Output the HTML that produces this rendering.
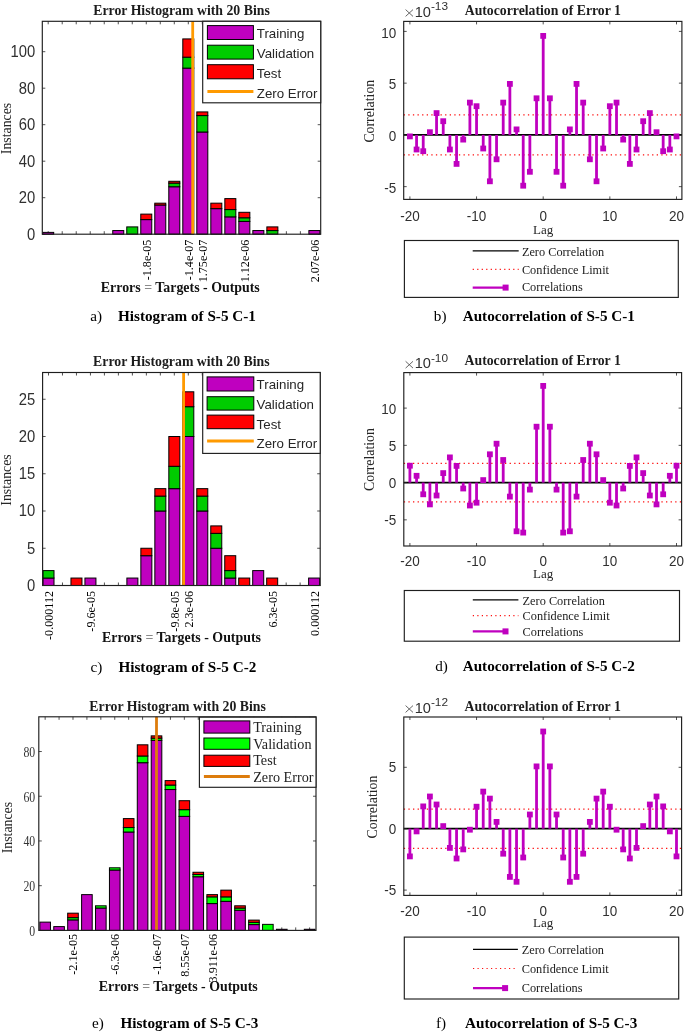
<!DOCTYPE html>
<html><head><meta charset="utf-8"><style>
html,body{margin:0;padding:0;background:#fff;}
svg{display:block;filter:blur(0.55px);}
</style></head><body>
<svg width="685" height="1033" viewBox="0 0 685 1033">
<rect width="685" height="1033" fill="#fff"/>
<line x1="48.20" y1="234.20" x2="48.20" y2="231.20" stroke="#262626" stroke-width="0.8" />
<line x1="48.20" y1="21.30" x2="48.20" y2="24.30" stroke="#262626" stroke-width="0.8" />
<line x1="62.21" y1="234.20" x2="62.21" y2="231.20" stroke="#262626" stroke-width="0.8" />
<line x1="62.21" y1="21.30" x2="62.21" y2="24.30" stroke="#262626" stroke-width="0.8" />
<line x1="76.22" y1="234.20" x2="76.22" y2="231.20" stroke="#262626" stroke-width="0.8" />
<line x1="76.22" y1="21.30" x2="76.22" y2="24.30" stroke="#262626" stroke-width="0.8" />
<line x1="90.23" y1="234.20" x2="90.23" y2="231.20" stroke="#262626" stroke-width="0.8" />
<line x1="90.23" y1="21.30" x2="90.23" y2="24.30" stroke="#262626" stroke-width="0.8" />
<line x1="104.24" y1="234.20" x2="104.24" y2="231.20" stroke="#262626" stroke-width="0.8" />
<line x1="104.24" y1="21.30" x2="104.24" y2="24.30" stroke="#262626" stroke-width="0.8" />
<line x1="118.25" y1="234.20" x2="118.25" y2="231.20" stroke="#262626" stroke-width="0.8" />
<line x1="118.25" y1="21.30" x2="118.25" y2="24.30" stroke="#262626" stroke-width="0.8" />
<line x1="132.26" y1="234.20" x2="132.26" y2="231.20" stroke="#262626" stroke-width="0.8" />
<line x1="132.26" y1="21.30" x2="132.26" y2="24.30" stroke="#262626" stroke-width="0.8" />
<line x1="146.27" y1="234.20" x2="146.27" y2="231.20" stroke="#262626" stroke-width="0.8" />
<line x1="146.27" y1="21.30" x2="146.27" y2="24.30" stroke="#262626" stroke-width="0.8" />
<line x1="160.28" y1="234.20" x2="160.28" y2="231.20" stroke="#262626" stroke-width="0.8" />
<line x1="160.28" y1="21.30" x2="160.28" y2="24.30" stroke="#262626" stroke-width="0.8" />
<line x1="174.29" y1="234.20" x2="174.29" y2="231.20" stroke="#262626" stroke-width="0.8" />
<line x1="174.29" y1="21.30" x2="174.29" y2="24.30" stroke="#262626" stroke-width="0.8" />
<line x1="188.30" y1="234.20" x2="188.30" y2="231.20" stroke="#262626" stroke-width="0.8" />
<line x1="188.30" y1="21.30" x2="188.30" y2="24.30" stroke="#262626" stroke-width="0.8" />
<line x1="202.31" y1="234.20" x2="202.31" y2="231.20" stroke="#262626" stroke-width="0.8" />
<line x1="202.31" y1="21.30" x2="202.31" y2="24.30" stroke="#262626" stroke-width="0.8" />
<line x1="216.32" y1="234.20" x2="216.32" y2="231.20" stroke="#262626" stroke-width="0.8" />
<line x1="216.32" y1="21.30" x2="216.32" y2="24.30" stroke="#262626" stroke-width="0.8" />
<line x1="230.33" y1="234.20" x2="230.33" y2="231.20" stroke="#262626" stroke-width="0.8" />
<line x1="230.33" y1="21.30" x2="230.33" y2="24.30" stroke="#262626" stroke-width="0.8" />
<line x1="244.34" y1="234.20" x2="244.34" y2="231.20" stroke="#262626" stroke-width="0.8" />
<line x1="244.34" y1="21.30" x2="244.34" y2="24.30" stroke="#262626" stroke-width="0.8" />
<line x1="258.35" y1="234.20" x2="258.35" y2="231.20" stroke="#262626" stroke-width="0.8" />
<line x1="258.35" y1="21.30" x2="258.35" y2="24.30" stroke="#262626" stroke-width="0.8" />
<line x1="272.36" y1="234.20" x2="272.36" y2="231.20" stroke="#262626" stroke-width="0.8" />
<line x1="272.36" y1="21.30" x2="272.36" y2="24.30" stroke="#262626" stroke-width="0.8" />
<line x1="286.37" y1="234.20" x2="286.37" y2="231.20" stroke="#262626" stroke-width="0.8" />
<line x1="286.37" y1="21.30" x2="286.37" y2="24.30" stroke="#262626" stroke-width="0.8" />
<line x1="300.38" y1="234.20" x2="300.38" y2="231.20" stroke="#262626" stroke-width="0.8" />
<line x1="300.38" y1="21.30" x2="300.38" y2="24.30" stroke="#262626" stroke-width="0.8" />
<line x1="314.39" y1="234.20" x2="314.39" y2="231.20" stroke="#262626" stroke-width="0.8" />
<line x1="314.39" y1="21.30" x2="314.39" y2="24.30" stroke="#262626" stroke-width="0.8" />
<line x1="42.30" y1="234.20" x2="45.30" y2="234.20" stroke="#262626" stroke-width="0.8" />
<line x1="320.70" y1="234.20" x2="317.70" y2="234.20" stroke="#262626" stroke-width="0.8" />
<line x1="42.30" y1="197.70" x2="45.30" y2="197.70" stroke="#262626" stroke-width="0.8" />
<line x1="320.70" y1="197.70" x2="317.70" y2="197.70" stroke="#262626" stroke-width="0.8" />
<line x1="42.30" y1="161.20" x2="45.30" y2="161.20" stroke="#262626" stroke-width="0.8" />
<line x1="320.70" y1="161.20" x2="317.70" y2="161.20" stroke="#262626" stroke-width="0.8" />
<line x1="42.30" y1="124.70" x2="45.30" y2="124.70" stroke="#262626" stroke-width="0.8" />
<line x1="320.70" y1="124.70" x2="317.70" y2="124.70" stroke="#262626" stroke-width="0.8" />
<line x1="42.30" y1="88.20" x2="45.30" y2="88.20" stroke="#262626" stroke-width="0.8" />
<line x1="320.70" y1="88.20" x2="317.70" y2="88.20" stroke="#262626" stroke-width="0.8" />
<line x1="42.30" y1="51.70" x2="45.30" y2="51.70" stroke="#262626" stroke-width="0.8" />
<line x1="320.70" y1="51.70" x2="317.70" y2="51.70" stroke="#262626" stroke-width="0.8" />
<rect x="42.70" y="232.38" width="11.00" height="1.82" fill="#BF00BF" stroke="#000" stroke-width="1"/>
<rect x="112.75" y="230.55" width="11.00" height="3.65" fill="#BF00BF" stroke="#000" stroke-width="1"/>
<rect x="126.76" y="226.90" width="11.00" height="7.30" fill="#00CC00" stroke="#000" stroke-width="1"/>
<rect x="140.77" y="219.60" width="11.00" height="14.60" fill="#BF00BF" stroke="#000" stroke-width="1"/>
<rect x="140.77" y="214.12" width="11.00" height="5.47" fill="#FF0000" stroke="#000" stroke-width="1"/>
<rect x="154.78" y="205.00" width="11.00" height="29.20" fill="#BF00BF" stroke="#000" stroke-width="1"/>
<rect x="154.78" y="203.18" width="11.00" height="1.82" fill="#FF0000" stroke="#000" stroke-width="1"/>
<rect x="168.79" y="186.75" width="11.00" height="47.45" fill="#BF00BF" stroke="#000" stroke-width="1"/>
<rect x="168.79" y="183.10" width="11.00" height="3.65" fill="#00CC00" stroke="#000" stroke-width="1"/>
<rect x="168.79" y="181.28" width="11.00" height="1.82" fill="#FF0000" stroke="#000" stroke-width="1"/>
<rect x="182.80" y="68.12" width="11.00" height="166.07" fill="#BF00BF" stroke="#000" stroke-width="1"/>
<rect x="182.80" y="57.17" width="11.00" height="10.95" fill="#00CC00" stroke="#000" stroke-width="1"/>
<rect x="182.80" y="38.92" width="11.00" height="18.25" fill="#FF0000" stroke="#000" stroke-width="1"/>
<rect x="196.81" y="132.00" width="11.00" height="102.20" fill="#BF00BF" stroke="#000" stroke-width="1"/>
<rect x="196.81" y="115.58" width="11.00" height="16.43" fill="#00CC00" stroke="#000" stroke-width="1"/>
<rect x="196.81" y="111.92" width="11.00" height="3.65" fill="#FF0000" stroke="#000" stroke-width="1"/>
<rect x="210.82" y="208.65" width="11.00" height="25.55" fill="#BF00BF" stroke="#000" stroke-width="1"/>
<rect x="210.82" y="203.17" width="11.00" height="5.47" fill="#FF0000" stroke="#000" stroke-width="1"/>
<rect x="224.83" y="216.86" width="11.00" height="17.34" fill="#BF00BF" stroke="#000" stroke-width="1"/>
<rect x="224.83" y="209.56" width="11.00" height="7.30" fill="#00CC00" stroke="#000" stroke-width="1"/>
<rect x="224.83" y="198.61" width="11.00" height="10.95" fill="#FF0000" stroke="#000" stroke-width="1"/>
<rect x="238.84" y="221.42" width="11.00" height="12.78" fill="#BF00BF" stroke="#000" stroke-width="1"/>
<rect x="238.84" y="217.77" width="11.00" height="3.65" fill="#00CC00" stroke="#000" stroke-width="1"/>
<rect x="238.84" y="212.30" width="11.00" height="5.47" fill="#FF0000" stroke="#000" stroke-width="1"/>
<rect x="252.85" y="230.55" width="11.00" height="3.65" fill="#BF00BF" stroke="#000" stroke-width="1"/>
<rect x="266.86" y="230.55" width="11.00" height="3.65" fill="#00CC00" stroke="#000" stroke-width="1"/>
<rect x="266.86" y="226.90" width="11.00" height="3.65" fill="#FF0000" stroke="#000" stroke-width="1"/>
<rect x="308.89" y="230.55" width="11.00" height="3.65" fill="#BF00BF" stroke="#000" stroke-width="1"/>
<line x1="192.70" y1="21.30" x2="192.70" y2="234.20" stroke="#FF9A00" stroke-width="2.8" />
<rect x="42.30" y="21.30" width="278.40" height="212.90" fill="none" stroke="#1e1e1e" stroke-width="1.15"/>
<text transform="translate(35.20,239.60) scale(1,1.08)" font-family='"Liberation Sans", sans-serif' font-size="14.8" font-weight="normal" text-anchor="end" fill="#303030" >0</text>
<text transform="translate(35.20,203.10) scale(1,1.08)" font-family='"Liberation Sans", sans-serif' font-size="14.8" font-weight="normal" text-anchor="end" fill="#303030" >20</text>
<text transform="translate(35.20,166.60) scale(1,1.08)" font-family='"Liberation Sans", sans-serif' font-size="14.8" font-weight="normal" text-anchor="end" fill="#303030" >40</text>
<text transform="translate(35.20,130.10) scale(1,1.08)" font-family='"Liberation Sans", sans-serif' font-size="14.8" font-weight="normal" text-anchor="end" fill="#303030" >60</text>
<text transform="translate(35.20,93.60) scale(1,1.08)" font-family='"Liberation Sans", sans-serif' font-size="14.8" font-weight="normal" text-anchor="end" fill="#303030" >80</text>
<text transform="translate(35.20,57.10) scale(1,1.08)" font-family='"Liberation Sans", sans-serif' font-size="14.8" font-weight="normal" text-anchor="end" fill="#303030" >100</text>
<text transform="translate(10.50,128.50) rotate(-90)" font-family='"Liberation Serif", serif' font-size="13.8" font-weight="normal" text-anchor="middle" fill="#262626" >Instances</text>
<text x="181.50" y="14.60" font-family='"Liberation Serif", serif' font-size="13.8" font-weight="bold" text-anchor="middle" fill="#1c1c1c" >Error Histogram with 20 Bins</text>
<rect x="202.70" y="21.30" width="118.00" height="81.50" fill="#fff" stroke="#1e1e1e" stroke-width="1.15"/>
<rect x="207.40" y="25.60" width="46.00" height="13.90" fill="#BF00BF" stroke="#000" stroke-width="1"/>
<rect x="207.40" y="45.20" width="46.00" height="13.90" fill="#00CC00" stroke="#000" stroke-width="1"/>
<rect x="207.40" y="64.70" width="46.00" height="14.10" fill="#FF0000" stroke="#000" stroke-width="1"/>
<line x1="207.40" y1="91.60" x2="253.40" y2="91.60" stroke="#FF9A00" stroke-width="3" />
<text x="256.80" y="37.90" font-family='"Liberation Sans", sans-serif' font-size="13.3" font-weight="normal" text-anchor="start" fill="#262626" >Training</text>
<text x="256.80" y="57.70" font-family='"Liberation Sans", sans-serif' font-size="13.3" font-weight="normal" text-anchor="start" fill="#262626" >Validation</text>
<text x="256.80" y="78.10" font-family='"Liberation Sans", sans-serif' font-size="13.3" font-weight="normal" text-anchor="start" fill="#262626" >Test</text>
<text x="256.80" y="98.00" font-family='"Liberation Sans", sans-serif' font-size="13.3" font-weight="normal" text-anchor="start" fill="#262626" >Zero Error</text>
<text transform="translate(150.87,239.60) rotate(-90)" font-family='"Liberation Serif", serif' font-size="12.1" font-weight="normal" text-anchor="end" fill="#000" >-1.8e-05</text>
<text transform="translate(192.90,239.60) rotate(-90)" font-family='"Liberation Serif", serif' font-size="12.1" font-weight="normal" text-anchor="end" fill="#000" >-1.4e-07</text>
<text transform="translate(206.91,239.60) rotate(-90)" font-family='"Liberation Serif", serif' font-size="12.1" font-weight="normal" text-anchor="end" fill="#000" >1.75e-07</text>
<text transform="translate(248.94,239.60) rotate(-90)" font-family='"Liberation Serif", serif' font-size="12.1" font-weight="normal" text-anchor="end" fill="#000" >1.12e-06</text>
<text transform="translate(318.99,239.60) rotate(-90)" font-family='"Liberation Serif", serif' font-size="12.1" font-weight="normal" text-anchor="end" fill="#000" >2.07e-06</text>
<text x="180.30" y="291.90" font-family='"Liberation Serif", serif' font-size="13.9" font-weight="bold" text-anchor="middle" fill="#111" >Errors <tspan fill="#8a8a8a">=</tspan> Targets - Outputs</text>
<text x="90.20" y="321.10" font-family='"Liberation Serif", serif' font-size="15.2" font-weight="normal" text-anchor="start" fill="#000" >a)</text>
<text x="118.00" y="321.10" font-family='"Liberation Serif", serif' font-size="15.2" font-weight="bold" text-anchor="start" fill="#000" >Histogram of S-5 C-1</text>
<line x1="403.70" y1="114.90" x2="681.90" y2="114.90" stroke="#FF1010" stroke-width="1.3" stroke-dasharray="1.3 3.3"/>
<line x1="403.70" y1="154.90" x2="681.90" y2="154.90" stroke="#FF1010" stroke-width="1.3" stroke-dasharray="1.3 3.3"/>
<line x1="403.70" y1="134.90" x2="681.90" y2="134.90" stroke="#000" stroke-width="1.8" />
<line x1="409.90" y1="134.90" x2="409.90" y2="136.40" stroke="#BF00BF" stroke-width="2.8" />
<rect x="407.00" y="133.50" width="5.80" height="5.80" fill="#BF00BF" stroke="none" stroke-width="1"/>
<line x1="416.57" y1="134.90" x2="416.57" y2="149.50" stroke="#BF00BF" stroke-width="2.8" />
<rect x="413.67" y="146.60" width="5.80" height="5.80" fill="#BF00BF" stroke="none" stroke-width="1"/>
<line x1="423.23" y1="134.90" x2="423.23" y2="151.20" stroke="#BF00BF" stroke-width="2.8" />
<rect x="420.33" y="148.30" width="5.80" height="5.80" fill="#BF00BF" stroke="none" stroke-width="1"/>
<line x1="429.90" y1="134.90" x2="429.90" y2="132.20" stroke="#BF00BF" stroke-width="2.8" />
<rect x="427.00" y="129.30" width="5.80" height="5.80" fill="#BF00BF" stroke="none" stroke-width="1"/>
<line x1="436.56" y1="134.90" x2="436.56" y2="113.10" stroke="#BF00BF" stroke-width="2.8" />
<rect x="433.66" y="110.20" width="5.80" height="5.80" fill="#BF00BF" stroke="none" stroke-width="1"/>
<line x1="443.23" y1="134.90" x2="443.23" y2="121.20" stroke="#BF00BF" stroke-width="2.8" />
<rect x="440.33" y="118.30" width="5.80" height="5.80" fill="#BF00BF" stroke="none" stroke-width="1"/>
<line x1="449.89" y1="134.90" x2="449.89" y2="149.50" stroke="#BF00BF" stroke-width="2.8" />
<rect x="446.99" y="146.60" width="5.80" height="5.80" fill="#BF00BF" stroke="none" stroke-width="1"/>
<line x1="456.56" y1="134.90" x2="456.56" y2="163.90" stroke="#BF00BF" stroke-width="2.8" />
<rect x="453.66" y="161.00" width="5.80" height="5.80" fill="#BF00BF" stroke="none" stroke-width="1"/>
<line x1="463.22" y1="134.90" x2="463.22" y2="139.60" stroke="#BF00BF" stroke-width="2.8" />
<rect x="460.32" y="136.70" width="5.80" height="5.80" fill="#BF00BF" stroke="none" stroke-width="1"/>
<line x1="469.89" y1="134.90" x2="469.89" y2="102.60" stroke="#BF00BF" stroke-width="2.8" />
<rect x="466.99" y="99.70" width="5.80" height="5.80" fill="#BF00BF" stroke="none" stroke-width="1"/>
<line x1="476.55" y1="134.90" x2="476.55" y2="106.20" stroke="#BF00BF" stroke-width="2.8" />
<rect x="473.65" y="103.30" width="5.80" height="5.80" fill="#BF00BF" stroke="none" stroke-width="1"/>
<line x1="483.22" y1="134.90" x2="483.22" y2="148.50" stroke="#BF00BF" stroke-width="2.8" />
<rect x="480.32" y="145.60" width="5.80" height="5.80" fill="#BF00BF" stroke="none" stroke-width="1"/>
<line x1="489.88" y1="134.90" x2="489.88" y2="181.30" stroke="#BF00BF" stroke-width="2.8" />
<rect x="486.98" y="178.40" width="5.80" height="5.80" fill="#BF00BF" stroke="none" stroke-width="1"/>
<line x1="496.55" y1="134.90" x2="496.55" y2="159.30" stroke="#BF00BF" stroke-width="2.8" />
<rect x="493.65" y="156.40" width="5.80" height="5.80" fill="#BF00BF" stroke="none" stroke-width="1"/>
<line x1="503.21" y1="134.90" x2="503.21" y2="102.60" stroke="#BF00BF" stroke-width="2.8" />
<rect x="500.31" y="99.70" width="5.80" height="5.80" fill="#BF00BF" stroke="none" stroke-width="1"/>
<line x1="509.88" y1="134.90" x2="509.88" y2="83.90" stroke="#BF00BF" stroke-width="2.8" />
<rect x="506.98" y="81.00" width="5.80" height="5.80" fill="#BF00BF" stroke="none" stroke-width="1"/>
<line x1="516.54" y1="134.90" x2="516.54" y2="129.40" stroke="#BF00BF" stroke-width="2.8" />
<rect x="513.64" y="126.50" width="5.80" height="5.80" fill="#BF00BF" stroke="none" stroke-width="1"/>
<line x1="523.21" y1="134.90" x2="523.21" y2="185.70" stroke="#BF00BF" stroke-width="2.8" />
<rect x="520.31" y="182.80" width="5.80" height="5.80" fill="#BF00BF" stroke="none" stroke-width="1"/>
<line x1="529.87" y1="134.90" x2="529.87" y2="171.80" stroke="#BF00BF" stroke-width="2.8" />
<rect x="526.97" y="168.90" width="5.80" height="5.80" fill="#BF00BF" stroke="none" stroke-width="1"/>
<line x1="536.54" y1="134.90" x2="536.54" y2="98.30" stroke="#BF00BF" stroke-width="2.8" />
<rect x="533.64" y="95.40" width="5.80" height="5.80" fill="#BF00BF" stroke="none" stroke-width="1"/>
<line x1="543.20" y1="134.90" x2="543.20" y2="35.90" stroke="#BF00BF" stroke-width="2.8" />
<rect x="540.30" y="33.00" width="5.80" height="5.80" fill="#BF00BF" stroke="none" stroke-width="1"/>
<line x1="549.87" y1="134.90" x2="549.87" y2="98.30" stroke="#BF00BF" stroke-width="2.8" />
<rect x="546.97" y="95.40" width="5.80" height="5.80" fill="#BF00BF" stroke="none" stroke-width="1"/>
<line x1="556.53" y1="134.90" x2="556.53" y2="171.80" stroke="#BF00BF" stroke-width="2.8" />
<rect x="553.63" y="168.90" width="5.80" height="5.80" fill="#BF00BF" stroke="none" stroke-width="1"/>
<line x1="563.20" y1="134.90" x2="563.20" y2="185.70" stroke="#BF00BF" stroke-width="2.8" />
<rect x="560.30" y="182.80" width="5.80" height="5.80" fill="#BF00BF" stroke="none" stroke-width="1"/>
<line x1="569.86" y1="134.90" x2="569.86" y2="129.40" stroke="#BF00BF" stroke-width="2.8" />
<rect x="566.96" y="126.50" width="5.80" height="5.80" fill="#BF00BF" stroke="none" stroke-width="1"/>
<line x1="576.53" y1="134.90" x2="576.53" y2="83.90" stroke="#BF00BF" stroke-width="2.8" />
<rect x="573.63" y="81.00" width="5.80" height="5.80" fill="#BF00BF" stroke="none" stroke-width="1"/>
<line x1="583.19" y1="134.90" x2="583.19" y2="102.60" stroke="#BF00BF" stroke-width="2.8" />
<rect x="580.29" y="99.70" width="5.80" height="5.80" fill="#BF00BF" stroke="none" stroke-width="1"/>
<line x1="589.86" y1="134.90" x2="589.86" y2="159.30" stroke="#BF00BF" stroke-width="2.8" />
<rect x="586.96" y="156.40" width="5.80" height="5.80" fill="#BF00BF" stroke="none" stroke-width="1"/>
<line x1="596.52" y1="134.90" x2="596.52" y2="181.30" stroke="#BF00BF" stroke-width="2.8" />
<rect x="593.62" y="178.40" width="5.80" height="5.80" fill="#BF00BF" stroke="none" stroke-width="1"/>
<line x1="603.19" y1="134.90" x2="603.19" y2="148.50" stroke="#BF00BF" stroke-width="2.8" />
<rect x="600.29" y="145.60" width="5.80" height="5.80" fill="#BF00BF" stroke="none" stroke-width="1"/>
<line x1="609.85" y1="134.90" x2="609.85" y2="106.20" stroke="#BF00BF" stroke-width="2.8" />
<rect x="606.95" y="103.30" width="5.80" height="5.80" fill="#BF00BF" stroke="none" stroke-width="1"/>
<line x1="616.52" y1="134.90" x2="616.52" y2="102.60" stroke="#BF00BF" stroke-width="2.8" />
<rect x="613.62" y="99.70" width="5.80" height="5.80" fill="#BF00BF" stroke="none" stroke-width="1"/>
<line x1="623.18" y1="134.90" x2="623.18" y2="139.60" stroke="#BF00BF" stroke-width="2.8" />
<rect x="620.28" y="136.70" width="5.80" height="5.80" fill="#BF00BF" stroke="none" stroke-width="1"/>
<line x1="629.85" y1="134.90" x2="629.85" y2="163.90" stroke="#BF00BF" stroke-width="2.8" />
<rect x="626.95" y="161.00" width="5.80" height="5.80" fill="#BF00BF" stroke="none" stroke-width="1"/>
<line x1="636.51" y1="134.90" x2="636.51" y2="149.50" stroke="#BF00BF" stroke-width="2.8" />
<rect x="633.61" y="146.60" width="5.80" height="5.80" fill="#BF00BF" stroke="none" stroke-width="1"/>
<line x1="643.18" y1="134.90" x2="643.18" y2="121.20" stroke="#BF00BF" stroke-width="2.8" />
<rect x="640.28" y="118.30" width="5.80" height="5.80" fill="#BF00BF" stroke="none" stroke-width="1"/>
<line x1="649.84" y1="134.90" x2="649.84" y2="113.10" stroke="#BF00BF" stroke-width="2.8" />
<rect x="646.94" y="110.20" width="5.80" height="5.80" fill="#BF00BF" stroke="none" stroke-width="1"/>
<line x1="656.51" y1="134.90" x2="656.51" y2="132.20" stroke="#BF00BF" stroke-width="2.8" />
<rect x="653.61" y="129.30" width="5.80" height="5.80" fill="#BF00BF" stroke="none" stroke-width="1"/>
<line x1="663.17" y1="134.90" x2="663.17" y2="151.20" stroke="#BF00BF" stroke-width="2.8" />
<rect x="660.27" y="148.30" width="5.80" height="5.80" fill="#BF00BF" stroke="none" stroke-width="1"/>
<line x1="669.84" y1="134.90" x2="669.84" y2="149.50" stroke="#BF00BF" stroke-width="2.8" />
<rect x="666.94" y="146.60" width="5.80" height="5.80" fill="#BF00BF" stroke="none" stroke-width="1"/>
<line x1="676.50" y1="134.90" x2="676.50" y2="136.40" stroke="#BF00BF" stroke-width="2.8" />
<rect x="673.60" y="133.50" width="5.80" height="5.80" fill="#BF00BF" stroke="none" stroke-width="1"/>
<line x1="409.90" y1="199.40" x2="409.90" y2="196.40" stroke="#262626" stroke-width="0.8" />
<line x1="409.90" y1="21.40" x2="409.90" y2="24.40" stroke="#262626" stroke-width="0.8" />
<line x1="476.55" y1="199.40" x2="476.55" y2="196.40" stroke="#262626" stroke-width="0.8" />
<line x1="476.55" y1="21.40" x2="476.55" y2="24.40" stroke="#262626" stroke-width="0.8" />
<line x1="543.20" y1="199.40" x2="543.20" y2="196.40" stroke="#262626" stroke-width="0.8" />
<line x1="543.20" y1="21.40" x2="543.20" y2="24.40" stroke="#262626" stroke-width="0.8" />
<line x1="609.85" y1="199.40" x2="609.85" y2="196.40" stroke="#262626" stroke-width="0.8" />
<line x1="609.85" y1="21.40" x2="609.85" y2="24.40" stroke="#262626" stroke-width="0.8" />
<line x1="676.50" y1="199.40" x2="676.50" y2="196.40" stroke="#262626" stroke-width="0.8" />
<line x1="676.50" y1="21.40" x2="676.50" y2="24.40" stroke="#262626" stroke-width="0.8" />
<line x1="403.70" y1="31.40" x2="406.70" y2="31.40" stroke="#262626" stroke-width="0.8" />
<line x1="681.90" y1="31.40" x2="678.90" y2="31.40" stroke="#262626" stroke-width="0.8" />
<line x1="403.70" y1="83.15" x2="406.70" y2="83.15" stroke="#262626" stroke-width="0.8" />
<line x1="681.90" y1="83.15" x2="678.90" y2="83.15" stroke="#262626" stroke-width="0.8" />
<line x1="403.70" y1="134.90" x2="406.70" y2="134.90" stroke="#262626" stroke-width="0.8" />
<line x1="681.90" y1="134.90" x2="678.90" y2="134.90" stroke="#262626" stroke-width="0.8" />
<line x1="403.70" y1="186.65" x2="406.70" y2="186.65" stroke="#262626" stroke-width="0.8" />
<line x1="681.90" y1="186.65" x2="678.90" y2="186.65" stroke="#262626" stroke-width="0.8" />
<rect x="403.70" y="21.40" width="278.20" height="178.00" fill="none" stroke="#1e1e1e" stroke-width="1.15"/>
<text transform="translate(396.20,37.60) scale(1,1.1)" font-family='"Liberation Sans", sans-serif' font-size="13.5" font-weight="normal" text-anchor="end" fill="#303030" >10</text>
<text transform="translate(396.20,89.35) scale(1,1.1)" font-family='"Liberation Sans", sans-serif' font-size="13.5" font-weight="normal" text-anchor="end" fill="#303030" >5</text>
<text transform="translate(396.20,141.10) scale(1,1.1)" font-family='"Liberation Sans", sans-serif' font-size="13.5" font-weight="normal" text-anchor="end" fill="#303030" >0</text>
<text transform="translate(396.20,192.85) scale(1,1.1)" font-family='"Liberation Sans", sans-serif' font-size="13.5" font-weight="normal" text-anchor="end" fill="#303030" >-5</text>
<text transform="translate(409.90,220.50) scale(1,1.1)" font-family='"Liberation Sans", sans-serif' font-size="13.5" font-weight="normal" text-anchor="middle" fill="#303030" >-20</text>
<text transform="translate(476.55,220.50) scale(1,1.1)" font-family='"Liberation Sans", sans-serif' font-size="13.5" font-weight="normal" text-anchor="middle" fill="#303030" >-10</text>
<text transform="translate(543.20,220.50) scale(1,1.1)" font-family='"Liberation Sans", sans-serif' font-size="13.5" font-weight="normal" text-anchor="middle" fill="#303030" >0</text>
<text transform="translate(609.85,220.50) scale(1,1.1)" font-family='"Liberation Sans", sans-serif' font-size="13.5" font-weight="normal" text-anchor="middle" fill="#303030" >10</text>
<text transform="translate(676.50,220.50) scale(1,1.1)" font-family='"Liberation Sans", sans-serif' font-size="13.5" font-weight="normal" text-anchor="middle" fill="#303030" >20</text>
<line x1="405.60" y1="9.60" x2="413.00" y2="16.40" stroke="#555" stroke-width="0.9" />
<line x1="405.60" y1="16.40" x2="413.00" y2="9.60" stroke="#555" stroke-width="0.9" />
<text x="414.70" y="16.50" font-family='"Liberation Sans", sans-serif' font-size="14.6" font-weight="normal" text-anchor="start" fill="#303030" >10</text>
<text transform="translate(430.90,10.00) scale(1.12,1)" font-family='"Liberation Sans", sans-serif' font-size="10.6" fill="#303030">-13</text>
<text x="542.80" y="14.60" font-family='"Liberation Serif", serif' font-size="13.75" font-weight="bold" text-anchor="middle" fill="#1c1c1c" >Autocorrelation of Error 1</text>
<text transform="translate(373.50,111.20) rotate(-90)" font-family='"Liberation Serif", serif' font-size="13.8" font-weight="normal" text-anchor="middle" fill="#262626" >Correlation</text>
<text x="543.20" y="234.00" font-family='"Liberation Serif", serif' font-size="13" font-weight="normal" text-anchor="middle" fill="#262626" >Lag</text>
<rect x="404.40" y="240.50" width="273.90" height="56.90" fill="#fff" stroke="#1e1e1e" stroke-width="1.15"/>
<line x1="472.70" y1="250.80" x2="518.70" y2="250.80" stroke="#000" stroke-width="1.3" />
<line x1="472.70" y1="269.40" x2="518.70" y2="269.40" stroke="#FF1010" stroke-width="1.2" stroke-dasharray="1.2 3.3"/>
<line x1="472.70" y1="287.60" x2="505.60" y2="287.60" stroke="#BF00BF" stroke-width="2.2" />
<rect x="502.60" y="284.60" width="6.00" height="6.00" fill="#BF00BF" stroke="none" stroke-width="1"/>
<text x="521.90" y="255.80" font-family='"Liberation Serif", serif' font-size="12.3" font-weight="normal" text-anchor="start" fill="#1a1a1a" >Zero Correlation</text>
<text x="521.90" y="274.00" font-family='"Liberation Serif", serif' font-size="12.3" font-weight="normal" text-anchor="start" fill="#1a1a1a" >Confidence Limit</text>
<text x="521.90" y="291.30" font-family='"Liberation Serif", serif' font-size="12.3" font-weight="normal" text-anchor="start" fill="#1a1a1a" >Correlations</text>
<text x="433.80" y="321.30" font-family='"Liberation Serif", serif' font-size="15.2" font-weight="normal" text-anchor="start" fill="#000" >b)</text>
<text x="462.70" y="321.30" font-family='"Liberation Serif", serif' font-size="15.2" font-weight="bold" text-anchor="start" fill="#000" >Autocorrelation of S-5 C-1</text>
<line x1="48.50" y1="585.50" x2="48.50" y2="582.50" stroke="#262626" stroke-width="0.8" />
<line x1="48.50" y1="372.50" x2="48.50" y2="375.50" stroke="#262626" stroke-width="0.8" />
<line x1="62.48" y1="585.50" x2="62.48" y2="582.50" stroke="#262626" stroke-width="0.8" />
<line x1="62.48" y1="372.50" x2="62.48" y2="375.50" stroke="#262626" stroke-width="0.8" />
<line x1="76.46" y1="585.50" x2="76.46" y2="582.50" stroke="#262626" stroke-width="0.8" />
<line x1="76.46" y1="372.50" x2="76.46" y2="375.50" stroke="#262626" stroke-width="0.8" />
<line x1="90.44" y1="585.50" x2="90.44" y2="582.50" stroke="#262626" stroke-width="0.8" />
<line x1="90.44" y1="372.50" x2="90.44" y2="375.50" stroke="#262626" stroke-width="0.8" />
<line x1="104.42" y1="585.50" x2="104.42" y2="582.50" stroke="#262626" stroke-width="0.8" />
<line x1="104.42" y1="372.50" x2="104.42" y2="375.50" stroke="#262626" stroke-width="0.8" />
<line x1="118.40" y1="585.50" x2="118.40" y2="582.50" stroke="#262626" stroke-width="0.8" />
<line x1="118.40" y1="372.50" x2="118.40" y2="375.50" stroke="#262626" stroke-width="0.8" />
<line x1="132.38" y1="585.50" x2="132.38" y2="582.50" stroke="#262626" stroke-width="0.8" />
<line x1="132.38" y1="372.50" x2="132.38" y2="375.50" stroke="#262626" stroke-width="0.8" />
<line x1="146.36" y1="585.50" x2="146.36" y2="582.50" stroke="#262626" stroke-width="0.8" />
<line x1="146.36" y1="372.50" x2="146.36" y2="375.50" stroke="#262626" stroke-width="0.8" />
<line x1="160.34" y1="585.50" x2="160.34" y2="582.50" stroke="#262626" stroke-width="0.8" />
<line x1="160.34" y1="372.50" x2="160.34" y2="375.50" stroke="#262626" stroke-width="0.8" />
<line x1="174.32" y1="585.50" x2="174.32" y2="582.50" stroke="#262626" stroke-width="0.8" />
<line x1="174.32" y1="372.50" x2="174.32" y2="375.50" stroke="#262626" stroke-width="0.8" />
<line x1="188.30" y1="585.50" x2="188.30" y2="582.50" stroke="#262626" stroke-width="0.8" />
<line x1="188.30" y1="372.50" x2="188.30" y2="375.50" stroke="#262626" stroke-width="0.8" />
<line x1="202.28" y1="585.50" x2="202.28" y2="582.50" stroke="#262626" stroke-width="0.8" />
<line x1="202.28" y1="372.50" x2="202.28" y2="375.50" stroke="#262626" stroke-width="0.8" />
<line x1="216.26" y1="585.50" x2="216.26" y2="582.50" stroke="#262626" stroke-width="0.8" />
<line x1="216.26" y1="372.50" x2="216.26" y2="375.50" stroke="#262626" stroke-width="0.8" />
<line x1="230.24" y1="585.50" x2="230.24" y2="582.50" stroke="#262626" stroke-width="0.8" />
<line x1="230.24" y1="372.50" x2="230.24" y2="375.50" stroke="#262626" stroke-width="0.8" />
<line x1="244.22" y1="585.50" x2="244.22" y2="582.50" stroke="#262626" stroke-width="0.8" />
<line x1="244.22" y1="372.50" x2="244.22" y2="375.50" stroke="#262626" stroke-width="0.8" />
<line x1="258.20" y1="585.50" x2="258.20" y2="582.50" stroke="#262626" stroke-width="0.8" />
<line x1="258.20" y1="372.50" x2="258.20" y2="375.50" stroke="#262626" stroke-width="0.8" />
<line x1="272.18" y1="585.50" x2="272.18" y2="582.50" stroke="#262626" stroke-width="0.8" />
<line x1="272.18" y1="372.50" x2="272.18" y2="375.50" stroke="#262626" stroke-width="0.8" />
<line x1="286.16" y1="585.50" x2="286.16" y2="582.50" stroke="#262626" stroke-width="0.8" />
<line x1="286.16" y1="372.50" x2="286.16" y2="375.50" stroke="#262626" stroke-width="0.8" />
<line x1="300.14" y1="585.50" x2="300.14" y2="582.50" stroke="#262626" stroke-width="0.8" />
<line x1="300.14" y1="372.50" x2="300.14" y2="375.50" stroke="#262626" stroke-width="0.8" />
<line x1="314.12" y1="585.50" x2="314.12" y2="582.50" stroke="#262626" stroke-width="0.8" />
<line x1="314.12" y1="372.50" x2="314.12" y2="375.50" stroke="#262626" stroke-width="0.8" />
<line x1="42.60" y1="585.50" x2="45.60" y2="585.50" stroke="#262626" stroke-width="0.8" />
<line x1="320.20" y1="585.50" x2="317.20" y2="585.50" stroke="#262626" stroke-width="0.8" />
<line x1="42.60" y1="548.25" x2="45.60" y2="548.25" stroke="#262626" stroke-width="0.8" />
<line x1="320.20" y1="548.25" x2="317.20" y2="548.25" stroke="#262626" stroke-width="0.8" />
<line x1="42.60" y1="511.00" x2="45.60" y2="511.00" stroke="#262626" stroke-width="0.8" />
<line x1="320.20" y1="511.00" x2="317.20" y2="511.00" stroke="#262626" stroke-width="0.8" />
<line x1="42.60" y1="473.75" x2="45.60" y2="473.75" stroke="#262626" stroke-width="0.8" />
<line x1="320.20" y1="473.75" x2="317.20" y2="473.75" stroke="#262626" stroke-width="0.8" />
<line x1="42.60" y1="436.50" x2="45.60" y2="436.50" stroke="#262626" stroke-width="0.8" />
<line x1="320.20" y1="436.50" x2="317.20" y2="436.50" stroke="#262626" stroke-width="0.8" />
<line x1="42.60" y1="399.25" x2="45.60" y2="399.25" stroke="#262626" stroke-width="0.8" />
<line x1="320.20" y1="399.25" x2="317.20" y2="399.25" stroke="#262626" stroke-width="0.8" />
<rect x="43.00" y="578.05" width="11.00" height="7.45" fill="#BF00BF" stroke="#000" stroke-width="1"/>
<rect x="43.00" y="570.60" width="11.00" height="7.45" fill="#00CC00" stroke="#000" stroke-width="1"/>
<rect x="70.96" y="578.05" width="11.00" height="7.45" fill="#FF0000" stroke="#000" stroke-width="1"/>
<rect x="84.94" y="578.05" width="11.00" height="7.45" fill="#BF00BF" stroke="#000" stroke-width="1"/>
<rect x="126.88" y="578.05" width="11.00" height="7.45" fill="#BF00BF" stroke="#000" stroke-width="1"/>
<rect x="140.86" y="555.70" width="11.00" height="29.80" fill="#BF00BF" stroke="#000" stroke-width="1"/>
<rect x="140.86" y="548.25" width="11.00" height="7.45" fill="#FF0000" stroke="#000" stroke-width="1"/>
<rect x="154.84" y="511.00" width="11.00" height="74.50" fill="#BF00BF" stroke="#000" stroke-width="1"/>
<rect x="154.84" y="496.10" width="11.00" height="14.90" fill="#00CC00" stroke="#000" stroke-width="1"/>
<rect x="154.84" y="488.65" width="11.00" height="7.45" fill="#FF0000" stroke="#000" stroke-width="1"/>
<rect x="168.82" y="488.65" width="11.00" height="96.85" fill="#BF00BF" stroke="#000" stroke-width="1"/>
<rect x="168.82" y="466.30" width="11.00" height="22.35" fill="#00CC00" stroke="#000" stroke-width="1"/>
<rect x="168.82" y="436.50" width="11.00" height="29.80" fill="#FF0000" stroke="#000" stroke-width="1"/>
<rect x="182.80" y="436.50" width="11.00" height="149.00" fill="#BF00BF" stroke="#000" stroke-width="1"/>
<rect x="182.80" y="406.70" width="11.00" height="29.80" fill="#00CC00" stroke="#000" stroke-width="1"/>
<rect x="182.80" y="391.80" width="11.00" height="14.90" fill="#FF0000" stroke="#000" stroke-width="1"/>
<rect x="196.78" y="511.00" width="11.00" height="74.50" fill="#BF00BF" stroke="#000" stroke-width="1"/>
<rect x="196.78" y="496.10" width="11.00" height="14.90" fill="#00CC00" stroke="#000" stroke-width="1"/>
<rect x="196.78" y="488.65" width="11.00" height="7.45" fill="#FF0000" stroke="#000" stroke-width="1"/>
<rect x="210.76" y="548.25" width="11.00" height="37.25" fill="#BF00BF" stroke="#000" stroke-width="1"/>
<rect x="210.76" y="533.35" width="11.00" height="14.90" fill="#00CC00" stroke="#000" stroke-width="1"/>
<rect x="210.76" y="525.90" width="11.00" height="7.45" fill="#FF0000" stroke="#000" stroke-width="1"/>
<rect x="224.74" y="578.05" width="11.00" height="7.45" fill="#BF00BF" stroke="#000" stroke-width="1"/>
<rect x="224.74" y="570.60" width="11.00" height="7.45" fill="#00CC00" stroke="#000" stroke-width="1"/>
<rect x="224.74" y="555.70" width="11.00" height="14.90" fill="#FF0000" stroke="#000" stroke-width="1"/>
<rect x="238.72" y="578.05" width="11.00" height="7.45" fill="#FF0000" stroke="#000" stroke-width="1"/>
<rect x="252.70" y="570.60" width="11.00" height="14.90" fill="#BF00BF" stroke="#000" stroke-width="1"/>
<rect x="266.68" y="578.05" width="11.00" height="7.45" fill="#FF0000" stroke="#000" stroke-width="1"/>
<rect x="308.62" y="578.05" width="11.00" height="7.45" fill="#BF00BF" stroke="#000" stroke-width="1"/>
<line x1="183.60" y1="372.50" x2="183.60" y2="585.50" stroke="#FF9A00" stroke-width="2.8" />
<rect x="42.60" y="372.50" width="277.60" height="213.00" fill="none" stroke="#1e1e1e" stroke-width="1.15"/>
<text transform="translate(35.20,590.90) scale(1,1.08)" font-family='"Liberation Sans", sans-serif' font-size="14.8" font-weight="normal" text-anchor="end" fill="#303030" >0</text>
<text transform="translate(35.20,553.65) scale(1,1.08)" font-family='"Liberation Sans", sans-serif' font-size="14.8" font-weight="normal" text-anchor="end" fill="#303030" >5</text>
<text transform="translate(35.20,516.40) scale(1,1.08)" font-family='"Liberation Sans", sans-serif' font-size="14.8" font-weight="normal" text-anchor="end" fill="#303030" >10</text>
<text transform="translate(35.20,479.15) scale(1,1.08)" font-family='"Liberation Sans", sans-serif' font-size="14.8" font-weight="normal" text-anchor="end" fill="#303030" >15</text>
<text transform="translate(35.20,441.90) scale(1,1.08)" font-family='"Liberation Sans", sans-serif' font-size="14.8" font-weight="normal" text-anchor="end" fill="#303030" >20</text>
<text transform="translate(35.20,404.65) scale(1,1.08)" font-family='"Liberation Sans", sans-serif' font-size="14.8" font-weight="normal" text-anchor="end" fill="#303030" >25</text>
<text transform="translate(10.50,480.00) rotate(-90)" font-family='"Liberation Serif", serif' font-size="13.8" font-weight="normal" text-anchor="middle" fill="#262626" >Instances</text>
<text x="181.40" y="365.80" font-family='"Liberation Serif", serif' font-size="13.8" font-weight="bold" text-anchor="middle" fill="#1c1c1c" >Error Histogram with 20 Bins</text>
<rect x="202.70" y="372.50" width="117.50" height="80.90" fill="#fff" stroke="#1e1e1e" stroke-width="1.15"/>
<rect x="207.10" y="376.90" width="46.70" height="14.10" fill="#BF00BF" stroke="#000" stroke-width="1"/>
<rect x="207.10" y="396.70" width="46.70" height="13.40" fill="#00CC00" stroke="#000" stroke-width="1"/>
<rect x="207.10" y="415.10" width="46.70" height="13.60" fill="#FF0000" stroke="#000" stroke-width="1"/>
<line x1="207.10" y1="441.10" x2="253.80" y2="441.10" stroke="#FF9A00" stroke-width="3" />
<text x="256.60" y="388.90" font-family='"Liberation Sans", sans-serif' font-size="13.3" font-weight="normal" text-anchor="start" fill="#262626" >Training</text>
<text x="256.60" y="408.50" font-family='"Liberation Sans", sans-serif' font-size="13.3" font-weight="normal" text-anchor="start" fill="#262626" >Validation</text>
<text x="256.60" y="428.50" font-family='"Liberation Sans", sans-serif' font-size="13.3" font-weight="normal" text-anchor="start" fill="#262626" >Test</text>
<text x="256.60" y="448.20" font-family='"Liberation Sans", sans-serif' font-size="13.3" font-weight="normal" text-anchor="start" fill="#262626" >Zero Error</text>
<text transform="translate(53.10,591.00) rotate(-90)" font-family='"Liberation Serif", serif' font-size="12.1" font-weight="normal" text-anchor="end" fill="#000" >-0.000112</text>
<text transform="translate(95.04,591.00) rotate(-90)" font-family='"Liberation Serif", serif' font-size="12.1" font-weight="normal" text-anchor="end" fill="#000" >-9.6e-05</text>
<text transform="translate(178.92,591.00) rotate(-90)" font-family='"Liberation Serif", serif' font-size="12.1" font-weight="normal" text-anchor="end" fill="#000" >-9.8e-05</text>
<text transform="translate(192.90,591.00) rotate(-90)" font-family='"Liberation Serif", serif' font-size="12.1" font-weight="normal" text-anchor="end" fill="#000" >2.3e-06</text>
<text transform="translate(276.78,591.00) rotate(-90)" font-family='"Liberation Serif", serif' font-size="12.1" font-weight="normal" text-anchor="end" fill="#000" >6.3e-05</text>
<text transform="translate(318.72,591.00) rotate(-90)" font-family='"Liberation Serif", serif' font-size="12.1" font-weight="normal" text-anchor="end" fill="#000" >0.000112</text>
<text x="181.50" y="641.80" font-family='"Liberation Serif", serif' font-size="13.9" font-weight="bold" text-anchor="middle" fill="#111" >Errors <tspan fill="#8a8a8a">=</tspan> Targets - Outputs</text>
<text x="90.50" y="672.00" font-family='"Liberation Serif", serif' font-size="15.2" font-weight="normal" text-anchor="start" fill="#000" >c)</text>
<text x="118.40" y="672.00" font-family='"Liberation Serif", serif' font-size="15.2" font-weight="bold" text-anchor="start" fill="#000" >Histogram of S-5 C-2</text>
<line x1="403.80" y1="463.30" x2="681.60" y2="463.30" stroke="#FF1010" stroke-width="1.3" stroke-dasharray="1.3 3.3"/>
<line x1="403.80" y1="501.90" x2="681.60" y2="501.90" stroke="#FF1010" stroke-width="1.3" stroke-dasharray="1.3 3.3"/>
<line x1="403.80" y1="482.60" x2="681.60" y2="482.60" stroke="#000" stroke-width="1.8" />
<line x1="409.90" y1="482.60" x2="409.90" y2="465.70" stroke="#BF00BF" stroke-width="2.8" />
<rect x="407.00" y="462.80" width="5.80" height="5.80" fill="#BF00BF" stroke="none" stroke-width="1"/>
<line x1="416.57" y1="482.60" x2="416.57" y2="475.80" stroke="#BF00BF" stroke-width="2.8" />
<rect x="413.67" y="472.90" width="5.80" height="5.80" fill="#BF00BF" stroke="none" stroke-width="1"/>
<line x1="423.23" y1="482.60" x2="423.23" y2="494.30" stroke="#BF00BF" stroke-width="2.8" />
<rect x="420.33" y="491.40" width="5.80" height="5.80" fill="#BF00BF" stroke="none" stroke-width="1"/>
<line x1="429.90" y1="482.60" x2="429.90" y2="504.40" stroke="#BF00BF" stroke-width="2.8" />
<rect x="427.00" y="501.50" width="5.80" height="5.80" fill="#BF00BF" stroke="none" stroke-width="1"/>
<line x1="436.56" y1="482.60" x2="436.56" y2="495.50" stroke="#BF00BF" stroke-width="2.8" />
<rect x="433.66" y="492.60" width="5.80" height="5.80" fill="#BF00BF" stroke="none" stroke-width="1"/>
<line x1="443.23" y1="482.60" x2="443.23" y2="473.10" stroke="#BF00BF" stroke-width="2.8" />
<rect x="440.33" y="470.20" width="5.80" height="5.80" fill="#BF00BF" stroke="none" stroke-width="1"/>
<line x1="449.89" y1="482.60" x2="449.89" y2="457.40" stroke="#BF00BF" stroke-width="2.8" />
<rect x="446.99" y="454.50" width="5.80" height="5.80" fill="#BF00BF" stroke="none" stroke-width="1"/>
<line x1="456.56" y1="482.60" x2="456.56" y2="465.90" stroke="#BF00BF" stroke-width="2.8" />
<rect x="453.66" y="463.00" width="5.80" height="5.80" fill="#BF00BF" stroke="none" stroke-width="1"/>
<line x1="463.22" y1="482.60" x2="463.22" y2="488.50" stroke="#BF00BF" stroke-width="2.8" />
<rect x="460.32" y="485.60" width="5.80" height="5.80" fill="#BF00BF" stroke="none" stroke-width="1"/>
<line x1="469.89" y1="482.60" x2="469.89" y2="505.50" stroke="#BF00BF" stroke-width="2.8" />
<rect x="466.99" y="502.60" width="5.80" height="5.80" fill="#BF00BF" stroke="none" stroke-width="1"/>
<line x1="476.55" y1="482.60" x2="476.55" y2="502.70" stroke="#BF00BF" stroke-width="2.8" />
<rect x="473.65" y="499.80" width="5.80" height="5.80" fill="#BF00BF" stroke="none" stroke-width="1"/>
<line x1="483.22" y1="482.60" x2="483.22" y2="480.10" stroke="#BF00BF" stroke-width="2.8" />
<rect x="480.32" y="477.20" width="5.80" height="5.80" fill="#BF00BF" stroke="none" stroke-width="1"/>
<line x1="489.88" y1="482.60" x2="489.88" y2="454.30" stroke="#BF00BF" stroke-width="2.8" />
<rect x="486.98" y="451.40" width="5.80" height="5.80" fill="#BF00BF" stroke="none" stroke-width="1"/>
<line x1="496.55" y1="482.60" x2="496.55" y2="443.70" stroke="#BF00BF" stroke-width="2.8" />
<rect x="493.65" y="440.80" width="5.80" height="5.80" fill="#BF00BF" stroke="none" stroke-width="1"/>
<line x1="503.21" y1="482.60" x2="503.21" y2="460.00" stroke="#BF00BF" stroke-width="2.8" />
<rect x="500.31" y="457.10" width="5.80" height="5.80" fill="#BF00BF" stroke="none" stroke-width="1"/>
<line x1="509.88" y1="482.60" x2="509.88" y2="496.60" stroke="#BF00BF" stroke-width="2.8" />
<rect x="506.98" y="493.70" width="5.80" height="5.80" fill="#BF00BF" stroke="none" stroke-width="1"/>
<line x1="516.54" y1="482.60" x2="516.54" y2="531.30" stroke="#BF00BF" stroke-width="2.8" />
<rect x="513.64" y="528.40" width="5.80" height="5.80" fill="#BF00BF" stroke="none" stroke-width="1"/>
<line x1="523.21" y1="482.60" x2="523.21" y2="532.60" stroke="#BF00BF" stroke-width="2.8" />
<rect x="520.31" y="529.70" width="5.80" height="5.80" fill="#BF00BF" stroke="none" stroke-width="1"/>
<line x1="529.87" y1="482.60" x2="529.87" y2="489.60" stroke="#BF00BF" stroke-width="2.8" />
<rect x="526.97" y="486.70" width="5.80" height="5.80" fill="#BF00BF" stroke="none" stroke-width="1"/>
<line x1="536.54" y1="482.60" x2="536.54" y2="426.70" stroke="#BF00BF" stroke-width="2.8" />
<rect x="533.64" y="423.80" width="5.80" height="5.80" fill="#BF00BF" stroke="none" stroke-width="1"/>
<line x1="543.20" y1="482.60" x2="543.20" y2="385.90" stroke="#BF00BF" stroke-width="2.8" />
<rect x="540.30" y="383.00" width="5.80" height="5.80" fill="#BF00BF" stroke="none" stroke-width="1"/>
<line x1="549.87" y1="482.60" x2="549.87" y2="426.70" stroke="#BF00BF" stroke-width="2.8" />
<rect x="546.97" y="423.80" width="5.80" height="5.80" fill="#BF00BF" stroke="none" stroke-width="1"/>
<line x1="556.53" y1="482.60" x2="556.53" y2="489.60" stroke="#BF00BF" stroke-width="2.8" />
<rect x="553.63" y="486.70" width="5.80" height="5.80" fill="#BF00BF" stroke="none" stroke-width="1"/>
<line x1="563.20" y1="482.60" x2="563.20" y2="532.60" stroke="#BF00BF" stroke-width="2.8" />
<rect x="560.30" y="529.70" width="5.80" height="5.80" fill="#BF00BF" stroke="none" stroke-width="1"/>
<line x1="569.86" y1="482.60" x2="569.86" y2="531.30" stroke="#BF00BF" stroke-width="2.8" />
<rect x="566.96" y="528.40" width="5.80" height="5.80" fill="#BF00BF" stroke="none" stroke-width="1"/>
<line x1="576.53" y1="482.60" x2="576.53" y2="496.60" stroke="#BF00BF" stroke-width="2.8" />
<rect x="573.63" y="493.70" width="5.80" height="5.80" fill="#BF00BF" stroke="none" stroke-width="1"/>
<line x1="583.19" y1="482.60" x2="583.19" y2="460.00" stroke="#BF00BF" stroke-width="2.8" />
<rect x="580.29" y="457.10" width="5.80" height="5.80" fill="#BF00BF" stroke="none" stroke-width="1"/>
<line x1="589.86" y1="482.60" x2="589.86" y2="443.70" stroke="#BF00BF" stroke-width="2.8" />
<rect x="586.96" y="440.80" width="5.80" height="5.80" fill="#BF00BF" stroke="none" stroke-width="1"/>
<line x1="596.52" y1="482.60" x2="596.52" y2="454.30" stroke="#BF00BF" stroke-width="2.8" />
<rect x="593.62" y="451.40" width="5.80" height="5.80" fill="#BF00BF" stroke="none" stroke-width="1"/>
<line x1="603.19" y1="482.60" x2="603.19" y2="480.10" stroke="#BF00BF" stroke-width="2.8" />
<rect x="600.29" y="477.20" width="5.80" height="5.80" fill="#BF00BF" stroke="none" stroke-width="1"/>
<line x1="609.85" y1="482.60" x2="609.85" y2="502.70" stroke="#BF00BF" stroke-width="2.8" />
<rect x="606.95" y="499.80" width="5.80" height="5.80" fill="#BF00BF" stroke="none" stroke-width="1"/>
<line x1="616.52" y1="482.60" x2="616.52" y2="505.50" stroke="#BF00BF" stroke-width="2.8" />
<rect x="613.62" y="502.60" width="5.80" height="5.80" fill="#BF00BF" stroke="none" stroke-width="1"/>
<line x1="623.18" y1="482.60" x2="623.18" y2="488.50" stroke="#BF00BF" stroke-width="2.8" />
<rect x="620.28" y="485.60" width="5.80" height="5.80" fill="#BF00BF" stroke="none" stroke-width="1"/>
<line x1="629.85" y1="482.60" x2="629.85" y2="465.90" stroke="#BF00BF" stroke-width="2.8" />
<rect x="626.95" y="463.00" width="5.80" height="5.80" fill="#BF00BF" stroke="none" stroke-width="1"/>
<line x1="636.51" y1="482.60" x2="636.51" y2="457.40" stroke="#BF00BF" stroke-width="2.8" />
<rect x="633.61" y="454.50" width="5.80" height="5.80" fill="#BF00BF" stroke="none" stroke-width="1"/>
<line x1="643.18" y1="482.60" x2="643.18" y2="473.10" stroke="#BF00BF" stroke-width="2.8" />
<rect x="640.28" y="470.20" width="5.80" height="5.80" fill="#BF00BF" stroke="none" stroke-width="1"/>
<line x1="649.84" y1="482.60" x2="649.84" y2="495.50" stroke="#BF00BF" stroke-width="2.8" />
<rect x="646.94" y="492.60" width="5.80" height="5.80" fill="#BF00BF" stroke="none" stroke-width="1"/>
<line x1="656.51" y1="482.60" x2="656.51" y2="504.40" stroke="#BF00BF" stroke-width="2.8" />
<rect x="653.61" y="501.50" width="5.80" height="5.80" fill="#BF00BF" stroke="none" stroke-width="1"/>
<line x1="663.17" y1="482.60" x2="663.17" y2="494.30" stroke="#BF00BF" stroke-width="2.8" />
<rect x="660.27" y="491.40" width="5.80" height="5.80" fill="#BF00BF" stroke="none" stroke-width="1"/>
<line x1="669.84" y1="482.60" x2="669.84" y2="475.80" stroke="#BF00BF" stroke-width="2.8" />
<rect x="666.94" y="472.90" width="5.80" height="5.80" fill="#BF00BF" stroke="none" stroke-width="1"/>
<line x1="676.50" y1="482.60" x2="676.50" y2="465.70" stroke="#BF00BF" stroke-width="2.8" />
<rect x="673.60" y="462.80" width="5.80" height="5.80" fill="#BF00BF" stroke="none" stroke-width="1"/>
<line x1="409.90" y1="546.00" x2="409.90" y2="543.00" stroke="#262626" stroke-width="0.8" />
<line x1="409.90" y1="372.60" x2="409.90" y2="375.60" stroke="#262626" stroke-width="0.8" />
<line x1="476.55" y1="546.00" x2="476.55" y2="543.00" stroke="#262626" stroke-width="0.8" />
<line x1="476.55" y1="372.60" x2="476.55" y2="375.60" stroke="#262626" stroke-width="0.8" />
<line x1="543.20" y1="546.00" x2="543.20" y2="543.00" stroke="#262626" stroke-width="0.8" />
<line x1="543.20" y1="372.60" x2="543.20" y2="375.60" stroke="#262626" stroke-width="0.8" />
<line x1="609.85" y1="546.00" x2="609.85" y2="543.00" stroke="#262626" stroke-width="0.8" />
<line x1="609.85" y1="372.60" x2="609.85" y2="375.60" stroke="#262626" stroke-width="0.8" />
<line x1="676.50" y1="546.00" x2="676.50" y2="543.00" stroke="#262626" stroke-width="0.8" />
<line x1="676.50" y1="372.60" x2="676.50" y2="375.60" stroke="#262626" stroke-width="0.8" />
<line x1="403.80" y1="408.10" x2="406.80" y2="408.10" stroke="#262626" stroke-width="0.8" />
<line x1="681.60" y1="408.10" x2="678.60" y2="408.10" stroke="#262626" stroke-width="0.8" />
<line x1="403.80" y1="445.35" x2="406.80" y2="445.35" stroke="#262626" stroke-width="0.8" />
<line x1="681.60" y1="445.35" x2="678.60" y2="445.35" stroke="#262626" stroke-width="0.8" />
<line x1="403.80" y1="482.60" x2="406.80" y2="482.60" stroke="#262626" stroke-width="0.8" />
<line x1="681.60" y1="482.60" x2="678.60" y2="482.60" stroke="#262626" stroke-width="0.8" />
<line x1="403.80" y1="519.85" x2="406.80" y2="519.85" stroke="#262626" stroke-width="0.8" />
<line x1="681.60" y1="519.85" x2="678.60" y2="519.85" stroke="#262626" stroke-width="0.8" />
<rect x="403.80" y="372.60" width="277.80" height="173.40" fill="none" stroke="#1e1e1e" stroke-width="1.15"/>
<text transform="translate(396.20,413.70) scale(1,1.1)" font-family='"Liberation Sans", sans-serif' font-size="13.5" font-weight="normal" text-anchor="end" fill="#303030" >10</text>
<text transform="translate(396.20,450.95) scale(1,1.1)" font-family='"Liberation Sans", sans-serif' font-size="13.5" font-weight="normal" text-anchor="end" fill="#303030" >5</text>
<text transform="translate(396.20,488.20) scale(1,1.1)" font-family='"Liberation Sans", sans-serif' font-size="13.5" font-weight="normal" text-anchor="end" fill="#303030" >0</text>
<text transform="translate(396.20,525.45) scale(1,1.1)" font-family='"Liberation Sans", sans-serif' font-size="13.5" font-weight="normal" text-anchor="end" fill="#303030" >-5</text>
<text transform="translate(409.90,566.00) scale(1,1.1)" font-family='"Liberation Sans", sans-serif' font-size="13.5" font-weight="normal" text-anchor="middle" fill="#303030" >-20</text>
<text transform="translate(476.55,566.00) scale(1,1.1)" font-family='"Liberation Sans", sans-serif' font-size="13.5" font-weight="normal" text-anchor="middle" fill="#303030" >-10</text>
<text transform="translate(543.20,566.00) scale(1,1.1)" font-family='"Liberation Sans", sans-serif' font-size="13.5" font-weight="normal" text-anchor="middle" fill="#303030" >0</text>
<text transform="translate(609.85,566.00) scale(1,1.1)" font-family='"Liberation Sans", sans-serif' font-size="13.5" font-weight="normal" text-anchor="middle" fill="#303030" >10</text>
<text transform="translate(676.50,566.00) scale(1,1.1)" font-family='"Liberation Sans", sans-serif' font-size="13.5" font-weight="normal" text-anchor="middle" fill="#303030" >20</text>
<line x1="405.60" y1="361.30" x2="413.00" y2="368.10" stroke="#555" stroke-width="0.9" />
<line x1="405.60" y1="368.10" x2="413.00" y2="361.30" stroke="#555" stroke-width="0.9" />
<text x="414.70" y="368.20" font-family='"Liberation Sans", sans-serif' font-size="14.6" font-weight="normal" text-anchor="start" fill="#303030" >10</text>
<text transform="translate(430.90,361.80) scale(1.12,1)" font-family='"Liberation Sans", sans-serif' font-size="10.6" fill="#303030">-10</text>
<text x="542.70" y="365.40" font-family='"Liberation Serif", serif' font-size="13.75" font-weight="bold" text-anchor="middle" fill="#1c1c1c" >Autocorrelation of Error 1</text>
<text transform="translate(373.50,459.50) rotate(-90)" font-family='"Liberation Serif", serif' font-size="13.8" font-weight="normal" text-anchor="middle" fill="#262626" >Correlation</text>
<text x="543.20" y="578.30" font-family='"Liberation Serif", serif' font-size="13" font-weight="normal" text-anchor="middle" fill="#262626" >Lag</text>
<rect x="404.30" y="590.50" width="275.20" height="50.70" fill="#fff" stroke="#1e1e1e" stroke-width="1.15"/>
<line x1="472.80" y1="599.90" x2="518.40" y2="599.90" stroke="#000" stroke-width="1.3" />
<line x1="472.80" y1="615.70" x2="518.40" y2="615.70" stroke="#FF1010" stroke-width="1.2" stroke-dasharray="1.2 3.3"/>
<line x1="472.80" y1="631.40" x2="505.50" y2="631.40" stroke="#BF00BF" stroke-width="2.2" />
<rect x="502.50" y="628.40" width="6.00" height="6.00" fill="#BF00BF" stroke="none" stroke-width="1"/>
<text x="522.60" y="604.50" font-family='"Liberation Serif", serif' font-size="12.3" font-weight="normal" text-anchor="start" fill="#1a1a1a" >Zero Correlation</text>
<text x="522.60" y="619.70" font-family='"Liberation Serif", serif' font-size="12.3" font-weight="normal" text-anchor="start" fill="#1a1a1a" >Confidence Limit</text>
<text x="522.60" y="635.60" font-family='"Liberation Serif", serif' font-size="12.3" font-weight="normal" text-anchor="start" fill="#1a1a1a" >Correlations</text>
<text x="435.20" y="671.20" font-family='"Liberation Serif", serif' font-size="15.2" font-weight="normal" text-anchor="start" fill="#000" >d)</text>
<text x="462.70" y="671.20" font-family='"Liberation Serif", serif' font-size="15.2" font-weight="bold" text-anchor="start" fill="#000" >Autocorrelation of S-5 C-2</text>
<line x1="45.15" y1="930.40" x2="45.15" y2="927.40" stroke="#262626" stroke-width="0.8" />
<line x1="45.15" y1="716.80" x2="45.15" y2="719.80" stroke="#262626" stroke-width="0.8" />
<line x1="59.07" y1="930.40" x2="59.07" y2="927.40" stroke="#262626" stroke-width="0.8" />
<line x1="59.07" y1="716.80" x2="59.07" y2="719.80" stroke="#262626" stroke-width="0.8" />
<line x1="72.99" y1="930.40" x2="72.99" y2="927.40" stroke="#262626" stroke-width="0.8" />
<line x1="72.99" y1="716.80" x2="72.99" y2="719.80" stroke="#262626" stroke-width="0.8" />
<line x1="86.91" y1="930.40" x2="86.91" y2="927.40" stroke="#262626" stroke-width="0.8" />
<line x1="86.91" y1="716.80" x2="86.91" y2="719.80" stroke="#262626" stroke-width="0.8" />
<line x1="100.83" y1="930.40" x2="100.83" y2="927.40" stroke="#262626" stroke-width="0.8" />
<line x1="100.83" y1="716.80" x2="100.83" y2="719.80" stroke="#262626" stroke-width="0.8" />
<line x1="114.75" y1="930.40" x2="114.75" y2="927.40" stroke="#262626" stroke-width="0.8" />
<line x1="114.75" y1="716.80" x2="114.75" y2="719.80" stroke="#262626" stroke-width="0.8" />
<line x1="128.67" y1="930.40" x2="128.67" y2="927.40" stroke="#262626" stroke-width="0.8" />
<line x1="128.67" y1="716.80" x2="128.67" y2="719.80" stroke="#262626" stroke-width="0.8" />
<line x1="142.59" y1="930.40" x2="142.59" y2="927.40" stroke="#262626" stroke-width="0.8" />
<line x1="142.59" y1="716.80" x2="142.59" y2="719.80" stroke="#262626" stroke-width="0.8" />
<line x1="156.51" y1="930.40" x2="156.51" y2="927.40" stroke="#262626" stroke-width="0.8" />
<line x1="156.51" y1="716.80" x2="156.51" y2="719.80" stroke="#262626" stroke-width="0.8" />
<line x1="170.43" y1="930.40" x2="170.43" y2="927.40" stroke="#262626" stroke-width="0.8" />
<line x1="170.43" y1="716.80" x2="170.43" y2="719.80" stroke="#262626" stroke-width="0.8" />
<line x1="184.35" y1="930.40" x2="184.35" y2="927.40" stroke="#262626" stroke-width="0.8" />
<line x1="184.35" y1="716.80" x2="184.35" y2="719.80" stroke="#262626" stroke-width="0.8" />
<line x1="198.27" y1="930.40" x2="198.27" y2="927.40" stroke="#262626" stroke-width="0.8" />
<line x1="198.27" y1="716.80" x2="198.27" y2="719.80" stroke="#262626" stroke-width="0.8" />
<line x1="212.19" y1="930.40" x2="212.19" y2="927.40" stroke="#262626" stroke-width="0.8" />
<line x1="212.19" y1="716.80" x2="212.19" y2="719.80" stroke="#262626" stroke-width="0.8" />
<line x1="226.11" y1="930.40" x2="226.11" y2="927.40" stroke="#262626" stroke-width="0.8" />
<line x1="226.11" y1="716.80" x2="226.11" y2="719.80" stroke="#262626" stroke-width="0.8" />
<line x1="240.03" y1="930.40" x2="240.03" y2="927.40" stroke="#262626" stroke-width="0.8" />
<line x1="240.03" y1="716.80" x2="240.03" y2="719.80" stroke="#262626" stroke-width="0.8" />
<line x1="253.95" y1="930.40" x2="253.95" y2="927.40" stroke="#262626" stroke-width="0.8" />
<line x1="253.95" y1="716.80" x2="253.95" y2="719.80" stroke="#262626" stroke-width="0.8" />
<line x1="267.87" y1="930.40" x2="267.87" y2="927.40" stroke="#262626" stroke-width="0.8" />
<line x1="267.87" y1="716.80" x2="267.87" y2="719.80" stroke="#262626" stroke-width="0.8" />
<line x1="281.79" y1="930.40" x2="281.79" y2="927.40" stroke="#262626" stroke-width="0.8" />
<line x1="281.79" y1="716.80" x2="281.79" y2="719.80" stroke="#262626" stroke-width="0.8" />
<line x1="295.71" y1="930.40" x2="295.71" y2="927.40" stroke="#262626" stroke-width="0.8" />
<line x1="295.71" y1="716.80" x2="295.71" y2="719.80" stroke="#262626" stroke-width="0.8" />
<line x1="309.63" y1="930.40" x2="309.63" y2="927.40" stroke="#262626" stroke-width="0.8" />
<line x1="309.63" y1="716.80" x2="309.63" y2="719.80" stroke="#262626" stroke-width="0.8" />
<line x1="38.80" y1="930.40" x2="41.80" y2="930.40" stroke="#262626" stroke-width="0.8" />
<line x1="316.00" y1="930.40" x2="313.00" y2="930.40" stroke="#262626" stroke-width="0.8" />
<line x1="38.80" y1="885.68" x2="41.80" y2="885.68" stroke="#262626" stroke-width="0.8" />
<line x1="316.00" y1="885.68" x2="313.00" y2="885.68" stroke="#262626" stroke-width="0.8" />
<line x1="38.80" y1="840.96" x2="41.80" y2="840.96" stroke="#262626" stroke-width="0.8" />
<line x1="316.00" y1="840.96" x2="313.00" y2="840.96" stroke="#262626" stroke-width="0.8" />
<line x1="38.80" y1="796.24" x2="41.80" y2="796.24" stroke="#262626" stroke-width="0.8" />
<line x1="316.00" y1="796.24" x2="313.00" y2="796.24" stroke="#262626" stroke-width="0.8" />
<line x1="38.80" y1="751.52" x2="41.80" y2="751.52" stroke="#262626" stroke-width="0.8" />
<line x1="316.00" y1="751.52" x2="313.00" y2="751.52" stroke="#262626" stroke-width="0.8" />
<rect x="39.85" y="922.13" width="10.60" height="8.27" fill="#BF00BF" stroke="#000" stroke-width="1"/>
<rect x="53.77" y="926.60" width="10.60" height="3.80" fill="#BF00BF" stroke="#000" stroke-width="1"/>
<rect x="67.69" y="919.89" width="10.60" height="10.51" fill="#BF00BF" stroke="#000" stroke-width="1"/>
<rect x="67.69" y="917.65" width="10.60" height="2.24" fill="#00FF00" stroke="#000" stroke-width="1"/>
<rect x="67.69" y="913.18" width="10.60" height="4.47" fill="#FF0000" stroke="#000" stroke-width="1"/>
<rect x="81.61" y="894.62" width="10.60" height="35.78" fill="#BF00BF" stroke="#000" stroke-width="1"/>
<rect x="95.53" y="908.04" width="10.60" height="22.36" fill="#BF00BF" stroke="#000" stroke-width="1"/>
<rect x="95.53" y="905.80" width="10.60" height="2.24" fill="#00FF00" stroke="#000" stroke-width="1"/>
<rect x="109.45" y="870.03" width="10.60" height="60.37" fill="#BF00BF" stroke="#000" stroke-width="1"/>
<rect x="109.45" y="867.79" width="10.60" height="2.24" fill="#00FF00" stroke="#000" stroke-width="1"/>
<rect x="123.37" y="832.02" width="10.60" height="98.38" fill="#BF00BF" stroke="#000" stroke-width="1"/>
<rect x="123.37" y="827.54" width="10.60" height="4.47" fill="#00FF00" stroke="#000" stroke-width="1"/>
<rect x="123.37" y="818.60" width="10.60" height="8.94" fill="#FF0000" stroke="#000" stroke-width="1"/>
<rect x="137.29" y="762.70" width="10.60" height="167.70" fill="#BF00BF" stroke="#000" stroke-width="1"/>
<rect x="137.29" y="755.99" width="10.60" height="6.71" fill="#00FF00" stroke="#000" stroke-width="1"/>
<rect x="137.29" y="744.81" width="10.60" height="11.18" fill="#FF0000" stroke="#000" stroke-width="1"/>
<rect x="151.21" y="740.34" width="10.60" height="190.06" fill="#BF00BF" stroke="#000" stroke-width="1"/>
<rect x="151.21" y="738.10" width="10.60" height="2.24" fill="#00FF00" stroke="#000" stroke-width="1"/>
<rect x="151.21" y="735.87" width="10.60" height="2.24" fill="#FF0000" stroke="#000" stroke-width="1"/>
<rect x="165.13" y="789.53" width="10.60" height="140.87" fill="#BF00BF" stroke="#000" stroke-width="1"/>
<rect x="165.13" y="785.06" width="10.60" height="4.47" fill="#00FF00" stroke="#000" stroke-width="1"/>
<rect x="165.13" y="780.59" width="10.60" height="4.47" fill="#FF0000" stroke="#000" stroke-width="1"/>
<rect x="179.05" y="816.36" width="10.60" height="114.04" fill="#BF00BF" stroke="#000" stroke-width="1"/>
<rect x="179.05" y="809.66" width="10.60" height="6.71" fill="#00FF00" stroke="#000" stroke-width="1"/>
<rect x="179.05" y="800.71" width="10.60" height="8.94" fill="#FF0000" stroke="#000" stroke-width="1"/>
<rect x="192.97" y="876.74" width="10.60" height="53.66" fill="#BF00BF" stroke="#000" stroke-width="1"/>
<rect x="192.97" y="874.50" width="10.60" height="2.24" fill="#00FF00" stroke="#000" stroke-width="1"/>
<rect x="192.97" y="872.26" width="10.60" height="2.24" fill="#FF0000" stroke="#000" stroke-width="1"/>
<rect x="206.89" y="903.57" width="10.60" height="26.83" fill="#BF00BF" stroke="#000" stroke-width="1"/>
<rect x="206.89" y="896.86" width="10.60" height="6.71" fill="#00FF00" stroke="#000" stroke-width="1"/>
<rect x="206.89" y="894.62" width="10.60" height="2.24" fill="#FF0000" stroke="#000" stroke-width="1"/>
<rect x="220.81" y="901.33" width="10.60" height="29.07" fill="#BF00BF" stroke="#000" stroke-width="1"/>
<rect x="220.81" y="896.86" width="10.60" height="4.47" fill="#00FF00" stroke="#000" stroke-width="1"/>
<rect x="220.81" y="890.15" width="10.60" height="6.71" fill="#FF0000" stroke="#000" stroke-width="1"/>
<rect x="234.73" y="910.28" width="10.60" height="20.12" fill="#BF00BF" stroke="#000" stroke-width="1"/>
<rect x="234.73" y="908.04" width="10.60" height="2.24" fill="#00FF00" stroke="#000" stroke-width="1"/>
<rect x="234.73" y="905.80" width="10.60" height="2.24" fill="#FF0000" stroke="#000" stroke-width="1"/>
<rect x="248.65" y="924.59" width="10.60" height="5.81" fill="#BF00BF" stroke="#000" stroke-width="1"/>
<rect x="248.65" y="922.35" width="10.60" height="2.24" fill="#00FF00" stroke="#000" stroke-width="1"/>
<rect x="248.65" y="920.11" width="10.60" height="2.24" fill="#FF0000" stroke="#000" stroke-width="1"/>
<rect x="262.57" y="924.36" width="10.60" height="6.04" fill="#00FF00" stroke="#000" stroke-width="1"/>
<rect x="276.49" y="929.28" width="10.60" height="1.12" fill="#BF00BF" stroke="#000" stroke-width="1"/>
<rect x="304.33" y="929.28" width="10.60" height="1.12" fill="#BF00BF" stroke="#000" stroke-width="1"/>
<line x1="156.50" y1="716.80" x2="156.50" y2="930.40" stroke="#DD7C0C" stroke-width="2.8" />
<rect x="38.80" y="716.80" width="277.20" height="213.60" fill="none" stroke="#1e1e1e" stroke-width="1.15"/>
<text transform="translate(35.20,935.70) scale(1,1.2)" font-family='"Liberation Serif", serif' font-size="11.8" font-weight="normal" text-anchor="end" fill="#333" >0</text>
<text transform="translate(35.20,890.98) scale(1,1.2)" font-family='"Liberation Serif", serif' font-size="11.8" font-weight="normal" text-anchor="end" fill="#333" >20</text>
<text transform="translate(35.20,846.26) scale(1,1.2)" font-family='"Liberation Serif", serif' font-size="11.8" font-weight="normal" text-anchor="end" fill="#333" >40</text>
<text transform="translate(35.20,801.54) scale(1,1.2)" font-family='"Liberation Serif", serif' font-size="11.8" font-weight="normal" text-anchor="end" fill="#333" >60</text>
<text transform="translate(35.20,756.82) scale(1,1.2)" font-family='"Liberation Serif", serif' font-size="11.8" font-weight="normal" text-anchor="end" fill="#333" >80</text>
<text transform="translate(11.50,827.60) rotate(-90)" font-family='"Liberation Serif", serif' font-size="13.8" font-weight="normal" text-anchor="middle" fill="#262626" >Instances</text>
<text x="177.60" y="710.70" font-family='"Liberation Serif", serif' font-size="13.8" font-weight="bold" text-anchor="middle" fill="#1c1c1c" >Error Histogram with 20 Bins</text>
<rect x="199.40" y="717.20" width="116.60" height="70.10" fill="#fff" stroke="#1e1e1e" stroke-width="1.15"/>
<rect x="203.90" y="720.90" width="45.90" height="12.20" fill="#BF00BF" stroke="#000" stroke-width="1"/>
<rect x="203.90" y="738.00" width="45.90" height="11.30" fill="#00FF00" stroke="#000" stroke-width="1"/>
<rect x="203.90" y="755.20" width="45.90" height="11.20" fill="#FF0000" stroke="#000" stroke-width="1"/>
<line x1="203.90" y1="776.60" x2="249.80" y2="776.60" stroke="#DD7C0C" stroke-width="3" />
<text x="253.20" y="731.80" font-family='"Liberation Serif", serif' font-size="14.2" font-weight="normal" text-anchor="start" fill="#222" >Training</text>
<text x="253.20" y="748.90" font-family='"Liberation Serif", serif' font-size="14.2" font-weight="normal" text-anchor="start" fill="#222" >Validation</text>
<text x="253.20" y="764.90" font-family='"Liberation Serif", serif' font-size="14.2" font-weight="normal" text-anchor="start" fill="#222" >Test</text>
<text x="253.20" y="781.70" font-family='"Liberation Serif", serif' font-size="14.2" font-weight="normal" text-anchor="start" fill="#222" >Zero Error</text>
<text transform="translate(77.49,933.80) rotate(-90)" font-family='"Liberation Serif", serif' font-size="12.2" font-weight="normal" text-anchor="end" fill="#000" >-2.1e-05</text>
<text transform="translate(119.25,933.80) rotate(-90)" font-family='"Liberation Serif", serif' font-size="12.2" font-weight="normal" text-anchor="end" fill="#000" >-6.3e-06</text>
<text transform="translate(161.01,933.80) rotate(-90)" font-family='"Liberation Serif", serif' font-size="12.2" font-weight="normal" text-anchor="end" fill="#000" >-1.6e-07</text>
<text transform="translate(188.85,933.80) rotate(-90)" font-family='"Liberation Serif", serif' font-size="12.2" font-weight="normal" text-anchor="end" fill="#000" >8.55e-07</text>
<text transform="translate(216.69,933.80) rotate(-90)" font-family='"Liberation Serif", serif' font-size="12.2" font-weight="normal" text-anchor="end" fill="#000" >3.911e-06</text>
<text x="178.30" y="990.90" font-family='"Liberation Serif", serif' font-size="13.9" font-weight="bold" text-anchor="middle" fill="#111" >Errors <tspan fill="#8a8a8a">=</tspan> Targets - Outputs</text>
<text x="92.10" y="1027.80" font-family='"Liberation Serif", serif' font-size="15.2" font-weight="normal" text-anchor="start" fill="#000" >e)</text>
<text x="120.40" y="1027.80" font-family='"Liberation Serif", serif' font-size="15.2" font-weight="bold" text-anchor="start" fill="#000" >Histogram of S-5 C-3</text>
<line x1="403.80" y1="809.10" x2="681.60" y2="809.10" stroke="#FF1010" stroke-width="1.3" stroke-dasharray="1.3 3.3"/>
<line x1="403.80" y1="848.30" x2="681.60" y2="848.30" stroke="#FF1010" stroke-width="1.3" stroke-dasharray="1.3 3.3"/>
<line x1="403.80" y1="828.70" x2="681.60" y2="828.70" stroke="#000" stroke-width="1.8" />
<line x1="409.90" y1="828.70" x2="409.90" y2="856.40" stroke="#BF00BF" stroke-width="2.8" />
<rect x="407.00" y="853.50" width="5.80" height="5.80" fill="#BF00BF" stroke="none" stroke-width="1"/>
<line x1="416.57" y1="828.70" x2="416.57" y2="831.40" stroke="#BF00BF" stroke-width="2.8" />
<rect x="413.67" y="828.50" width="5.80" height="5.80" fill="#BF00BF" stroke="none" stroke-width="1"/>
<line x1="423.23" y1="828.70" x2="423.23" y2="806.40" stroke="#BF00BF" stroke-width="2.8" />
<rect x="420.33" y="803.50" width="5.80" height="5.80" fill="#BF00BF" stroke="none" stroke-width="1"/>
<line x1="429.90" y1="828.70" x2="429.90" y2="796.50" stroke="#BF00BF" stroke-width="2.8" />
<rect x="427.00" y="793.60" width="5.80" height="5.80" fill="#BF00BF" stroke="none" stroke-width="1"/>
<line x1="436.56" y1="828.70" x2="436.56" y2="804.50" stroke="#BF00BF" stroke-width="2.8" />
<rect x="433.66" y="801.60" width="5.80" height="5.80" fill="#BF00BF" stroke="none" stroke-width="1"/>
<line x1="443.23" y1="828.70" x2="443.23" y2="826.10" stroke="#BF00BF" stroke-width="2.8" />
<rect x="440.33" y="823.20" width="5.80" height="5.80" fill="#BF00BF" stroke="none" stroke-width="1"/>
<line x1="449.89" y1="828.70" x2="449.89" y2="847.90" stroke="#BF00BF" stroke-width="2.8" />
<rect x="446.99" y="845.00" width="5.80" height="5.80" fill="#BF00BF" stroke="none" stroke-width="1"/>
<line x1="456.56" y1="828.70" x2="456.56" y2="858.50" stroke="#BF00BF" stroke-width="2.8" />
<rect x="453.66" y="855.60" width="5.80" height="5.80" fill="#BF00BF" stroke="none" stroke-width="1"/>
<line x1="463.22" y1="828.70" x2="463.22" y2="849.40" stroke="#BF00BF" stroke-width="2.8" />
<rect x="460.32" y="846.50" width="5.80" height="5.80" fill="#BF00BF" stroke="none" stroke-width="1"/>
<line x1="469.89" y1="828.70" x2="469.89" y2="829.70" stroke="#BF00BF" stroke-width="2.8" />
<rect x="466.99" y="826.80" width="5.80" height="5.80" fill="#BF00BF" stroke="none" stroke-width="1"/>
<line x1="476.55" y1="828.70" x2="476.55" y2="806.70" stroke="#BF00BF" stroke-width="2.8" />
<rect x="473.65" y="803.80" width="5.80" height="5.80" fill="#BF00BF" stroke="none" stroke-width="1"/>
<line x1="483.22" y1="828.70" x2="483.22" y2="791.60" stroke="#BF00BF" stroke-width="2.8" />
<rect x="480.32" y="788.70" width="5.80" height="5.80" fill="#BF00BF" stroke="none" stroke-width="1"/>
<line x1="489.88" y1="828.70" x2="489.88" y2="798.60" stroke="#BF00BF" stroke-width="2.8" />
<rect x="486.98" y="795.70" width="5.80" height="5.80" fill="#BF00BF" stroke="none" stroke-width="1"/>
<line x1="496.55" y1="828.70" x2="496.55" y2="821.90" stroke="#BF00BF" stroke-width="2.8" />
<rect x="493.65" y="819.00" width="5.80" height="5.80" fill="#BF00BF" stroke="none" stroke-width="1"/>
<line x1="503.21" y1="828.70" x2="503.21" y2="853.70" stroke="#BF00BF" stroke-width="2.8" />
<rect x="500.31" y="850.80" width="5.80" height="5.80" fill="#BF00BF" stroke="none" stroke-width="1"/>
<line x1="509.88" y1="828.70" x2="509.88" y2="876.90" stroke="#BF00BF" stroke-width="2.8" />
<rect x="506.98" y="874.00" width="5.80" height="5.80" fill="#BF00BF" stroke="none" stroke-width="1"/>
<line x1="516.54" y1="828.70" x2="516.54" y2="881.80" stroke="#BF00BF" stroke-width="2.8" />
<rect x="513.64" y="878.90" width="5.80" height="5.80" fill="#BF00BF" stroke="none" stroke-width="1"/>
<line x1="523.21" y1="828.70" x2="523.21" y2="857.50" stroke="#BF00BF" stroke-width="2.8" />
<rect x="520.31" y="854.60" width="5.80" height="5.80" fill="#BF00BF" stroke="none" stroke-width="1"/>
<line x1="529.87" y1="828.70" x2="529.87" y2="814.50" stroke="#BF00BF" stroke-width="2.8" />
<rect x="526.97" y="811.60" width="5.80" height="5.80" fill="#BF00BF" stroke="none" stroke-width="1"/>
<line x1="536.54" y1="828.70" x2="536.54" y2="766.40" stroke="#BF00BF" stroke-width="2.8" />
<rect x="533.64" y="763.50" width="5.80" height="5.80" fill="#BF00BF" stroke="none" stroke-width="1"/>
<line x1="543.20" y1="828.70" x2="543.20" y2="731.50" stroke="#BF00BF" stroke-width="2.8" />
<rect x="540.30" y="728.60" width="5.80" height="5.80" fill="#BF00BF" stroke="none" stroke-width="1"/>
<line x1="549.87" y1="828.70" x2="549.87" y2="766.40" stroke="#BF00BF" stroke-width="2.8" />
<rect x="546.97" y="763.50" width="5.80" height="5.80" fill="#BF00BF" stroke="none" stroke-width="1"/>
<line x1="556.53" y1="828.70" x2="556.53" y2="814.50" stroke="#BF00BF" stroke-width="2.8" />
<rect x="553.63" y="811.60" width="5.80" height="5.80" fill="#BF00BF" stroke="none" stroke-width="1"/>
<line x1="563.20" y1="828.70" x2="563.20" y2="857.50" stroke="#BF00BF" stroke-width="2.8" />
<rect x="560.30" y="854.60" width="5.80" height="5.80" fill="#BF00BF" stroke="none" stroke-width="1"/>
<line x1="569.86" y1="828.70" x2="569.86" y2="881.80" stroke="#BF00BF" stroke-width="2.8" />
<rect x="566.96" y="878.90" width="5.80" height="5.80" fill="#BF00BF" stroke="none" stroke-width="1"/>
<line x1="576.53" y1="828.70" x2="576.53" y2="876.90" stroke="#BF00BF" stroke-width="2.8" />
<rect x="573.63" y="874.00" width="5.80" height="5.80" fill="#BF00BF" stroke="none" stroke-width="1"/>
<line x1="583.19" y1="828.70" x2="583.19" y2="853.70" stroke="#BF00BF" stroke-width="2.8" />
<rect x="580.29" y="850.80" width="5.80" height="5.80" fill="#BF00BF" stroke="none" stroke-width="1"/>
<line x1="589.86" y1="828.70" x2="589.86" y2="821.90" stroke="#BF00BF" stroke-width="2.8" />
<rect x="586.96" y="819.00" width="5.80" height="5.80" fill="#BF00BF" stroke="none" stroke-width="1"/>
<line x1="596.52" y1="828.70" x2="596.52" y2="798.60" stroke="#BF00BF" stroke-width="2.8" />
<rect x="593.62" y="795.70" width="5.80" height="5.80" fill="#BF00BF" stroke="none" stroke-width="1"/>
<line x1="603.19" y1="828.70" x2="603.19" y2="791.60" stroke="#BF00BF" stroke-width="2.8" />
<rect x="600.29" y="788.70" width="5.80" height="5.80" fill="#BF00BF" stroke="none" stroke-width="1"/>
<line x1="609.85" y1="828.70" x2="609.85" y2="806.70" stroke="#BF00BF" stroke-width="2.8" />
<rect x="606.95" y="803.80" width="5.80" height="5.80" fill="#BF00BF" stroke="none" stroke-width="1"/>
<line x1="616.52" y1="828.70" x2="616.52" y2="829.70" stroke="#BF00BF" stroke-width="2.8" />
<rect x="613.62" y="826.80" width="5.80" height="5.80" fill="#BF00BF" stroke="none" stroke-width="1"/>
<line x1="623.18" y1="828.70" x2="623.18" y2="849.40" stroke="#BF00BF" stroke-width="2.8" />
<rect x="620.28" y="846.50" width="5.80" height="5.80" fill="#BF00BF" stroke="none" stroke-width="1"/>
<line x1="629.85" y1="828.70" x2="629.85" y2="858.50" stroke="#BF00BF" stroke-width="2.8" />
<rect x="626.95" y="855.60" width="5.80" height="5.80" fill="#BF00BF" stroke="none" stroke-width="1"/>
<line x1="636.51" y1="828.70" x2="636.51" y2="847.90" stroke="#BF00BF" stroke-width="2.8" />
<rect x="633.61" y="845.00" width="5.80" height="5.80" fill="#BF00BF" stroke="none" stroke-width="1"/>
<line x1="643.18" y1="828.70" x2="643.18" y2="826.10" stroke="#BF00BF" stroke-width="2.8" />
<rect x="640.28" y="823.20" width="5.80" height="5.80" fill="#BF00BF" stroke="none" stroke-width="1"/>
<line x1="649.84" y1="828.70" x2="649.84" y2="804.50" stroke="#BF00BF" stroke-width="2.8" />
<rect x="646.94" y="801.60" width="5.80" height="5.80" fill="#BF00BF" stroke="none" stroke-width="1"/>
<line x1="656.51" y1="828.70" x2="656.51" y2="796.50" stroke="#BF00BF" stroke-width="2.8" />
<rect x="653.61" y="793.60" width="5.80" height="5.80" fill="#BF00BF" stroke="none" stroke-width="1"/>
<line x1="663.17" y1="828.70" x2="663.17" y2="806.40" stroke="#BF00BF" stroke-width="2.8" />
<rect x="660.27" y="803.50" width="5.80" height="5.80" fill="#BF00BF" stroke="none" stroke-width="1"/>
<line x1="669.84" y1="828.70" x2="669.84" y2="831.40" stroke="#BF00BF" stroke-width="2.8" />
<rect x="666.94" y="828.50" width="5.80" height="5.80" fill="#BF00BF" stroke="none" stroke-width="1"/>
<line x1="676.50" y1="828.70" x2="676.50" y2="856.40" stroke="#BF00BF" stroke-width="2.8" />
<rect x="673.60" y="853.50" width="5.80" height="5.80" fill="#BF00BF" stroke="none" stroke-width="1"/>
<line x1="409.90" y1="895.40" x2="409.90" y2="892.40" stroke="#262626" stroke-width="0.8" />
<line x1="409.90" y1="717.00" x2="409.90" y2="720.00" stroke="#262626" stroke-width="0.8" />
<line x1="476.55" y1="895.40" x2="476.55" y2="892.40" stroke="#262626" stroke-width="0.8" />
<line x1="476.55" y1="717.00" x2="476.55" y2="720.00" stroke="#262626" stroke-width="0.8" />
<line x1="543.20" y1="895.40" x2="543.20" y2="892.40" stroke="#262626" stroke-width="0.8" />
<line x1="543.20" y1="717.00" x2="543.20" y2="720.00" stroke="#262626" stroke-width="0.8" />
<line x1="609.85" y1="895.40" x2="609.85" y2="892.40" stroke="#262626" stroke-width="0.8" />
<line x1="609.85" y1="717.00" x2="609.85" y2="720.00" stroke="#262626" stroke-width="0.8" />
<line x1="676.50" y1="895.40" x2="676.50" y2="892.40" stroke="#262626" stroke-width="0.8" />
<line x1="676.50" y1="717.00" x2="676.50" y2="720.00" stroke="#262626" stroke-width="0.8" />
<line x1="403.80" y1="767.30" x2="406.80" y2="767.30" stroke="#262626" stroke-width="0.8" />
<line x1="681.60" y1="767.30" x2="678.60" y2="767.30" stroke="#262626" stroke-width="0.8" />
<line x1="403.80" y1="828.70" x2="406.80" y2="828.70" stroke="#262626" stroke-width="0.8" />
<line x1="681.60" y1="828.70" x2="678.60" y2="828.70" stroke="#262626" stroke-width="0.8" />
<line x1="403.80" y1="890.10" x2="406.80" y2="890.10" stroke="#262626" stroke-width="0.8" />
<line x1="681.60" y1="890.10" x2="678.60" y2="890.10" stroke="#262626" stroke-width="0.8" />
<rect x="403.80" y="717.00" width="277.80" height="178.40" fill="none" stroke="#1e1e1e" stroke-width="1.15"/>
<text transform="translate(396.20,772.30) scale(1,1.1)" font-family='"Liberation Sans", sans-serif' font-size="13.5" font-weight="normal" text-anchor="end" fill="#303030" >5</text>
<text transform="translate(396.20,833.70) scale(1,1.1)" font-family='"Liberation Sans", sans-serif' font-size="13.5" font-weight="normal" text-anchor="end" fill="#303030" >0</text>
<text transform="translate(396.20,895.10) scale(1,1.1)" font-family='"Liberation Sans", sans-serif' font-size="13.5" font-weight="normal" text-anchor="end" fill="#303030" >-5</text>
<text transform="translate(409.90,916.00) scale(1,1.1)" font-family='"Liberation Sans", sans-serif' font-size="13.5" font-weight="normal" text-anchor="middle" fill="#303030" >-20</text>
<text transform="translate(476.55,916.00) scale(1,1.1)" font-family='"Liberation Sans", sans-serif' font-size="13.5" font-weight="normal" text-anchor="middle" fill="#303030" >-10</text>
<text transform="translate(543.20,916.00) scale(1,1.1)" font-family='"Liberation Sans", sans-serif' font-size="13.5" font-weight="normal" text-anchor="middle" fill="#303030" >0</text>
<text transform="translate(609.85,916.00) scale(1,1.1)" font-family='"Liberation Sans", sans-serif' font-size="13.5" font-weight="normal" text-anchor="middle" fill="#303030" >10</text>
<text transform="translate(676.50,916.00) scale(1,1.1)" font-family='"Liberation Sans", sans-serif' font-size="13.5" font-weight="normal" text-anchor="middle" fill="#303030" >20</text>
<line x1="405.60" y1="705.60" x2="413.00" y2="712.40" stroke="#555" stroke-width="0.9" />
<line x1="405.60" y1="712.40" x2="413.00" y2="705.60" stroke="#555" stroke-width="0.9" />
<text x="414.70" y="712.50" font-family='"Liberation Sans", sans-serif' font-size="14.6" font-weight="normal" text-anchor="start" fill="#303030" >10</text>
<text transform="translate(430.90,706.10) scale(1.12,1)" font-family='"Liberation Sans", sans-serif' font-size="10.6" fill="#303030">-12</text>
<text x="542.70" y="710.70" font-family='"Liberation Serif", serif' font-size="13.75" font-weight="bold" text-anchor="middle" fill="#1c1c1c" >Autocorrelation of Error 1</text>
<text transform="translate(376.50,807.00) rotate(-90)" font-family='"Liberation Serif", serif' font-size="13.8" font-weight="normal" text-anchor="middle" fill="#262626" >Correlation</text>
<text x="543.20" y="926.50" font-family='"Liberation Serif", serif' font-size="13" font-weight="normal" text-anchor="middle" fill="#262626" >Lag</text>
<rect x="404.30" y="937.10" width="274.40" height="61.90" fill="#fff" stroke="#1e1e1e" stroke-width="1.15"/>
<line x1="473.00" y1="949.30" x2="517.90" y2="949.30" stroke="#000" stroke-width="1.3" />
<line x1="473.00" y1="968.50" x2="517.90" y2="968.50" stroke="#FF1010" stroke-width="1.2" stroke-dasharray="1.2 3.3"/>
<line x1="473.00" y1="988.10" x2="505.10" y2="988.10" stroke="#BF00BF" stroke-width="2.2" />
<rect x="502.10" y="985.10" width="6.00" height="6.00" fill="#BF00BF" stroke="none" stroke-width="1"/>
<text x="521.70" y="954.10" font-family='"Liberation Serif", serif' font-size="12.3" font-weight="normal" text-anchor="start" fill="#1a1a1a" >Zero Correlation</text>
<text x="521.70" y="972.70" font-family='"Liberation Serif", serif' font-size="12.3" font-weight="normal" text-anchor="start" fill="#1a1a1a" >Confidence Limit</text>
<text x="521.70" y="992.00" font-family='"Liberation Serif", serif' font-size="12.3" font-weight="normal" text-anchor="start" fill="#1a1a1a" >Correlations</text>
<text x="436.00" y="1027.90" font-family='"Liberation Serif", serif' font-size="15.2" font-weight="normal" text-anchor="start" fill="#000" >f)</text>
<text x="465.00" y="1027.90" font-family='"Liberation Serif", serif' font-size="15.2" font-weight="bold" text-anchor="start" fill="#000" >Autocorrelation of S-5 C-3</text>
</svg>
</body></html>
